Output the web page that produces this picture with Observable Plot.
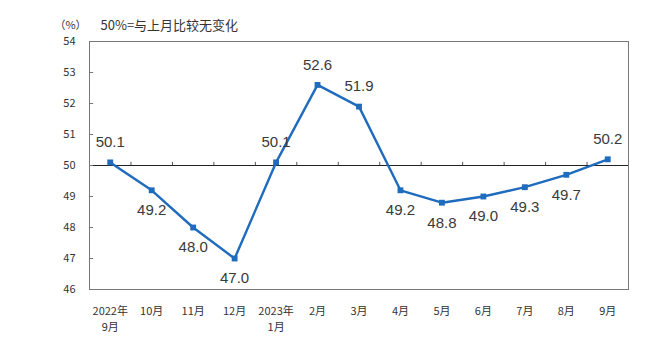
<!DOCTYPE html>
<html><head><meta charset="utf-8">
<script src="https://cdn.jsdelivr.net/npm/d3@7"></script>
<script src="https://cdn.jsdelivr.net/npm/@observablehq/plot@0.6"></script>
<style>body{margin:0;background:#fff}</style>
</head><body><div id="chart"></div>
<script>
const months = ["2022年\n9月","10月","11月","12月","2023年\n1月","2月","3月","4月","5月","6月","7月","8月","9月"];
const values = [50.1,49.2,48.0,47.0,50.1,52.6,51.9,49.2,48.8,49.0,49.3,49.7,50.2];
const yTicks = [46,47,48,49,50,51,52,53,54];
const unitLabel = "（%）";
const note = "50%=与上月比较无变化";
const baseline = 50;

const data = values.map((v, i) => ({i, v, label: v.toFixed(1)}));
const boundaries = d3.range(1, months.length).map(k => k - 0.5);
const lineColor = "#1f6bbd";
const cjk = "'Noto Sans CJK SC', sans-serif";

const chart = Plot.plot({
  width: 662, height: 354,
  marginLeft: 89, marginRight: 34, marginTop: 41, marginBottom: 65,
  style: {background: "white", fontFamily: cjk, color: "#333"},
  x: {domain: [-0.5, months.length - 0.5], axis: null},
  y: {domain: [46, 54], axis: null},
  marks: [
    Plot.frame({stroke: "#777"}),
    Plot.ruleY([baseline], {stroke: "#222", strokeWidth: 1.2}),
    Plot.ruleY(yTicks, {y: d => d, x1: -0.5, x2: -0.4, stroke: "#777"}),
    Plot.ruleX(boundaries, {x: d => d, y1: baseline, y2: baseline + 0.1, stroke: "#555"}),
    Plot.axisX(d3.range(months.length), {anchor: "bottom", tickSize: 0, tickPadding: 15, tickFormat: i => months[i],
      fontSize: 11, lineHeight: 1.4, lineAnchor: "top", fill: "#333", fontFamily: cjk, label: null}),
    Plot.axisY(yTicks, {anchor: "left", tickSize: 0, tickPadding: 14, fontSize: 11, fill: "#333", fontFamily: cjk, label: null}),
    Plot.line(data, {x: "i", y: "v", stroke: lineColor, strokeWidth: 2.4}),
    Plot.dot(data, {x: "i", y: "v", symbol: "square", r: 3.3, fill: lineColor, stroke: "none"}),
    Plot.text(data.filter(d => d.v >= baseline), {x: "i", y: "v", text: "label", dy: -20,
      fontSize: 15, fill: "#3a3a3a", fontFamily: "'Liberation Sans', Arial, sans-serif"}),
    Plot.text(data.filter(d => d.v < baseline), {x: "i", y: "v", text: "label", dy: 20,
      fontSize: 15, fill: "#3a3a3a", fontFamily: "'Liberation Sans', Arial, sans-serif"}),
    Plot.text([unitLabel], {frameAnchor: "top-left", dx: -19, dy: -20, textAnchor: "middle",
      fontSize: 11, fill: "#333", fontFamily: cjk}),
    Plot.text([note], {frameAnchor: "top-left", dx: 11, dy: -21, textAnchor: "start",
      fontSize: 13, fill: "#333", fontFamily: cjk})
  ]
});
document.getElementById("chart").append(chart);
</script>
</body></html>
